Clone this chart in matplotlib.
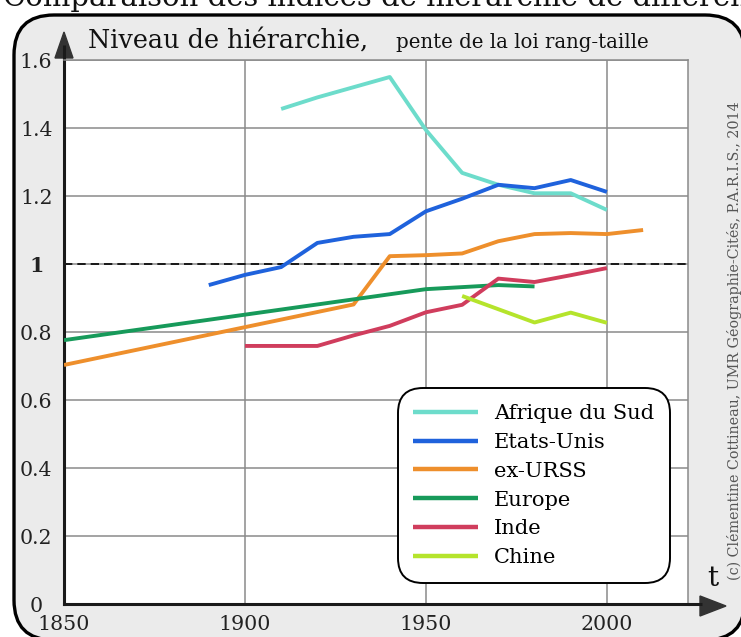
import matplotlib
matplotlib.use('Agg')
import matplotlib.pyplot as plt
from matplotlib.patches import FancyBboxPatch, Polygon

plt.rcParams['font.family'] = ['DejaVu Serif']

annees_afs = [1910, 1920, 1930, 1940, 1950, 1960, 1970, 1980, 1990, 2000]
afrique_du_sud = [1.456, 1.49, 1.52, 1.55, 1.394, 1.268, 1.233, 1.208, 1.208, 1.159]

annees_usa = [1890, 1900, 1910, 1920, 1930, 1940, 1950, 1960, 1970, 1980, 1990, 2000]
etats_unis = [0.938, 0.968, 0.991, 1.062, 1.080, 1.088, 1.155, 1.192, 1.233, 1.223, 1.247, 1.212]

annees_urss = [1850, 1930, 1940, 1950, 1960, 1970, 1980, 1990, 2000, 2010]
ex_urss = [0.703, 0.881, 1.023, 1.026, 1.031, 1.067, 1.088, 1.091, 1.088, 1.100]

annees_eur = [1850, 1950, 1960, 1970, 1980]
europe = [0.776, 0.926, 0.932, 0.938, 0.934]

annees_ind = [1900, 1920, 1930, 1940, 1950, 1960, 1970, 1980, 1990, 2000]
inde = [0.759, 0.759, 0.790, 0.818, 0.858, 0.880, 0.957, 0.947, 0.967, 0.988]

annees_chn = [1960, 1970, 1980, 1990, 2000]
chine = [0.906, 0.867, 0.828, 0.857, 0.827]

series = [
    ('Afrique du Sud', annees_afs, afrique_du_sud, '#6ddccb'),
    ('Etats-Unis', annees_usa, etats_unis, '#1f62dc'),
    ('ex-URSS', annees_urss, ex_urss, '#ee8f2c'),
    ('Europe', annees_eur, europe, '#179a5a'),
    ('Inde', annees_ind, inde, '#d03d5d'),
    ('Chine', annees_chn, chine, '#b5e42c'),
]

xticks = [1850, 1900, 1950, 2000]
yticks = [0, 0.2, 0.4, 0.6, 0.8, 1.0, 1.2, 1.4, 1.6]
ylabels = ['0', '0.2', '0.4', '0.6', '0.8', '1', '1.2', '1.4', '1.6']

W, H = 741, 637
fig = plt.figure(figsize=(W / 100, H / 100), dpi=100)

# fond gris arrondi + decorations, en coordonnees pixel
bg = fig.add_axes([0, 0, 1, 1], zorder=0)
bg.set_xlim(0, W)
bg.set_ylim(H, 0)
bg.axis('off')
bg.add_patch(FancyBboxPatch((14, 15), 731, 625,
                            boxstyle='round,pad=0,rounding_size=40',
                            facecolor='#ebebeb', edgecolor='black', lw=2.4))
bg.text(3, 6, 'Comparaison des indices de hiérarchie de différents systèmes de villes',
        fontsize=21, va='baseline', ha='left', color='#111111')
bg.text(88, 48, 'Niveau de hiérarchie,', fontsize=18.4, va='baseline', color='#111111')
bg.text(396, 48, 'pente de la loi rang-taille', fontsize=14.2, va='baseline', color='#111111')
bg.text(713, 578, 't', fontsize=20, ha='center', va='center', color='#111111')
bg.text(735, 341, '(c) Clémentine Cottineau, UMR Géographie-Cités, P.A.R.I.S., 2014',
        fontsize=10.3, rotation=90, ha='center', va='center', color='#555555')
# fleches des axes
bg.plot([64, 64], [60, 45], color='#1a1a1a', lw=2.2, solid_capstyle='butt')
bg.add_patch(Polygon([[55, 58], [73, 58], [64, 32]], closed=True, color='#333333'))
bg.plot([688, 702], [604, 604], color='#1a1a1a', lw=2.2, solid_capstyle='butt')
bg.add_patch(Polygon([[700, 596], [700, 616], [726, 606]], closed=True, color='#333333'))

ax = fig.add_axes([64 / W, 1 - 604 / H, 624 / W, 544 / H], zorder=1)
ax.set_facecolor('white')

for nom, x, y, c in series:
    ax.plot(x, y, color=c, lw=2.8, label=nom, solid_capstyle='butt', zorder=3)

ax.axhline(1.0, color='black', lw=1.2, linestyle=(0, (5, 3)), zorder=2)

ax.set_xlim(1850, 2022.4)
ax.set_ylim(0, 1.6)
ax.set_xticks(xticks)
ax.set_yticks(yticks)
ax.set_yticklabels(ylabels)
ax.grid(True, color='#8a8a8a', lw=1.1, zorder=1)
ax.set_axisbelow(True)

for s in ['top', 'right']:
    ax.spines[s].set_color('#8a8a8a')
    ax.spines[s].set_linewidth(1.1)
for s in ['left', 'bottom']:
    ax.spines[s].set_color('#1a1a1a')
    ax.spines[s].set_linewidth(2.2)

ax.tick_params(axis='both', length=0, labelsize=14.8, labelcolor='#222222')
ax.tick_params(axis='y', pad=20)
ax.tick_params(axis='x', pad=8)
for lab in ax.get_yticklabels():
    lab.set_horizontalalignment('center')
    if lab.get_text() == '1':
        lab.set_fontweight('bold')

leg = ax.legend(loc='lower right', bbox_to_anchor=((670 - 64) / 624, (604 - 583) / 544),
                fontsize=15.1, frameon=True, fancybox=True, handlelength=3.1,
                handletextpad=0.75, labelspacing=0.47, borderpad=0.75, borderaxespad=0)
frame = leg.get_frame()
frame.set_edgecolor('black')
frame.set_linewidth(1.4)
frame.set_facecolor('white')
frame.set_alpha(1)
frame.set_boxstyle('round', pad=0, rounding_size=1.2)
for line in leg.get_lines():
    line.set_linewidth(3.2)

fig.savefig('out.png', dpi=100)
